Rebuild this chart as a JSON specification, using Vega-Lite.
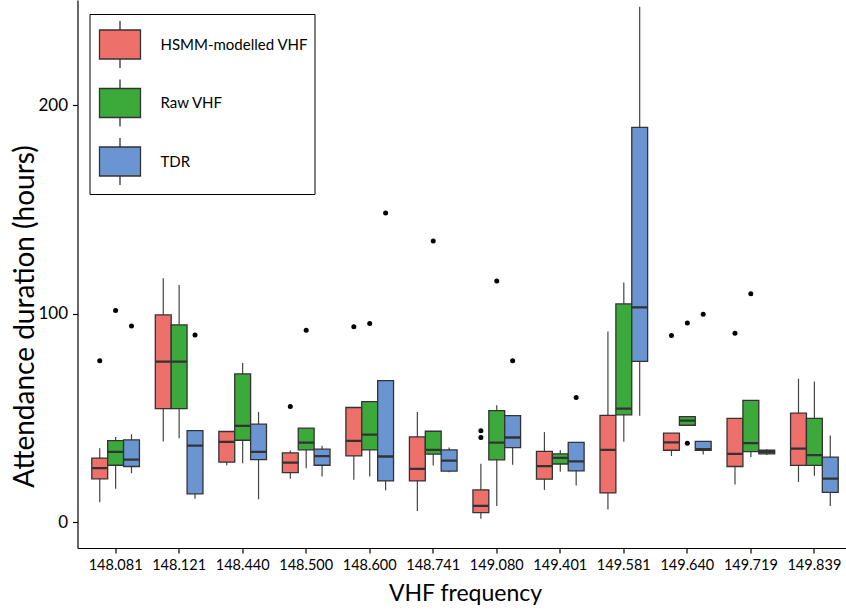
{
  "$schema": "https://vega.github.io/schema/vega-lite/v6.json",
  "width": 768,
  "height": 548,
  "autosize": {"type": "none"},
  "padding": {"left": 77.5, "top": 0, "right": 0, "bottom": 62},
  "background": "white",
  "config": {
    "view": {"stroke": null},
    "font": "Lato",
    "axis": {
      "grid": false,
      "domainColor": "#000000",
      "domainWidth": 1.2,
      "tickColor": "#000000",
      "tickWidth": 1.2,
      "tickSize": 5,
      "labelColor": "#000000",
      "titleColor": "#000000",
      "labelFont": "Lato",
      "titleFont": "Lato",
      "titleFontWeight": "normal"
    }
  },
  "datasets": {
    "boxes": [
      {"freq": "148.081", "source": "HSMM-modelled VHF", "lower": 9.6, "q1": 20.8, "median": 25.9, "q3": 30.7, "upper": 35.5},
      {"freq": "148.081", "source": "Raw VHF", "lower": 16, "q1": 27.3, "median": 33.7, "q3": 39.1, "upper": 40.8},
      {"freq": "148.081", "source": "TDR", "lower": 23.5, "q1": 26.7, "median": 30, "q3": 39.5, "upper": 42.2},
      {"freq": "148.121", "source": "HSMM-modelled VHF", "lower": 38.7, "q1": 54.5, "median": 77, "q3": 99.4, "upper": 117},
      {"freq": "148.121", "source": "Raw VHF", "lower": 40.3, "q1": 54.5, "median": 77, "q3": 94.6, "upper": 113.8},
      {"freq": "148.121", "source": "TDR", "lower": 11.2, "q1": 13.6, "median": 36.7, "q3": 43.9, "upper": 43.9},
      {"freq": "148.440", "source": "HSMM-modelled VHF", "lower": 27.2, "q1": 28.8, "median": 38.5, "q3": 43.5, "upper": 43.5},
      {"freq": "148.440", "source": "Raw VHF", "lower": 28.3, "q1": 39.3, "median": 46.2, "q3": 71.1, "upper": 76.3},
      {"freq": "148.440", "source": "TDR", "lower": 11, "q1": 30, "median": 33.7, "q3": 47, "upper": 52.8},
      {"freq": "148.500", "source": "HSMM-modelled VHF", "lower": 20.8, "q1": 23.8, "median": 28.6, "q3": 33.2, "upper": 34.4},
      {"freq": "148.500", "source": "Raw VHF", "lower": 25.9, "q1": 34.7, "median": 38.2, "q3": 45.1, "upper": 45.1},
      {"freq": "148.500", "source": "TDR", "lower": 21.9, "q1": 27.3, "median": 31.7, "q3": 35, "upper": 36.7},
      {"freq": "148.600", "source": "HSMM-modelled VHF", "lower": 20.3, "q1": 31.8, "median": 39, "q3": 55, "upper": 55},
      {"freq": "148.600", "source": "Raw VHF", "lower": 21.9, "q1": 34.7, "median": 42, "q3": 57.8, "upper": 57.8},
      {"freq": "148.600", "source": "TDR", "lower": 15.3, "q1": 19.8, "median": 31.5, "q3": 67.9, "upper": 67.9},
      {"freq": "148.741", "source": "HSMM-modelled VHF", "lower": 5.4, "q1": 19.8, "median": 25.6, "q3": 40.9, "upper": 52.8},
      {"freq": "148.741", "source": "Raw VHF", "lower": 27.2, "q1": 32.6, "median": 34.7, "q3": 43.6, "upper": 43.6},
      {"freq": "148.741", "source": "TDR", "lower": 24, "q1": 24.5, "median": 29.5, "q3": 34.7, "upper": 35.8},
      {"freq": "149.080", "source": "HSMM-modelled VHF", "lower": 1.6, "q1": 4.6, "median": 7.8, "q3": 15.5, "upper": 28},
      {"freq": "149.080", "source": "Raw VHF", "lower": 7.8, "q1": 29.9, "median": 38.2, "q3": 53.5, "upper": 56.1},
      {"freq": "149.080", "source": "TDR", "lower": 27.5, "q1": 35.8, "median": 40.6, "q3": 51.1, "upper": 51.1},
      {"freq": "149.401", "source": "HSMM-modelled VHF", "lower": 15.5, "q1": 20.6, "median": 26.9, "q3": 34, "upper": 43.2},
      {"freq": "149.401", "source": "Raw VHF", "lower": 24.2, "q1": 27.9, "median": 30.8, "q3": 32.8, "upper": 34.5},
      {"freq": "149.401", "source": "TDR", "lower": 17.6, "q1": 24.6, "median": 29.2, "q3": 38.3, "upper": 38.3},
      {"freq": "149.581", "source": "HSMM-modelled VHF", "lower": 6.1, "q1": 14, "median": 34.7, "q3": 51.2, "upper": 91.5},
      {"freq": "149.581", "source": "Raw VHF", "lower": 38.6, "q1": 51.5, "median": 54.5, "q3": 104.7, "upper": 115},
      {"freq": "149.581", "source": "TDR", "lower": 51, "q1": 77.1, "median": 103, "q3": 189.4, "upper": 247.3},
      {"freq": "149.640", "source": "HSMM-modelled VHF", "lower": 31.7, "q1": 34.5, "median": 38.3, "q3": 42.7, "upper": 42.7},
      {"freq": "149.640", "source": "Raw VHF", "lower": 46.5, "q1": 46.5, "median": 48.7, "q3": 50.6, "upper": 50.6},
      {"freq": "149.640", "source": "TDR", "lower": 32.5, "q1": 34.5, "median": 35, "q3": 38.8, "upper": 38.8},
      {"freq": "149.719", "source": "HSMM-modelled VHF", "lower": 18.1, "q1": 26.7, "median": 32.8, "q3": 49.8, "upper": 49.8},
      {"freq": "149.719", "source": "Raw VHF", "lower": 31.2, "q1": 33.8, "median": 37.9, "q3": 58.4, "upper": 58.4},
      {"freq": "149.719", "source": "TDR", "lower": 32.2, "q1": 32.8, "median": 33.6, "q3": 34.5, "upper": 35},
      {"freq": "149.839", "source": "HSMM-modelled VHF", "lower": 19.3, "q1": 27.2, "median": 35.3, "q3": 52.3, "upper": 68.8},
      {"freq": "149.839", "source": "Raw VHF", "lower": 22.3, "q1": 27.2, "median": 32.2, "q3": 49.8, "upper": 67.5},
      {"freq": "149.839", "source": "TDR", "lower": 7.7, "q1": 14.3, "median": 20.9, "q3": 31.2, "upper": 41.6}
    ],
    "outliers": [
      {"freq": "148.081", "source": "HSMM-modelled VHF", "value": 77.4},
      {"freq": "148.081", "source": "Raw VHF", "value": 101.5},
      {"freq": "148.081", "source": "TDR", "value": 94.1},
      {"freq": "148.121", "source": "TDR", "value": 89.8},
      {"freq": "148.500", "source": "HSMM-modelled VHF", "value": 55.5},
      {"freq": "148.500", "source": "Raw VHF", "value": 92.1},
      {"freq": "148.600", "source": "HSMM-modelled VHF", "value": 93.7},
      {"freq": "148.600", "source": "Raw VHF", "value": 95.3},
      {"freq": "148.600", "source": "TDR", "value": 148.3},
      {"freq": "148.741", "source": "Raw VHF", "value": 134.9},
      {"freq": "149.080", "source": "HSMM-modelled VHF", "value": 43.8},
      {"freq": "149.080", "source": "HSMM-modelled VHF", "value": 40.6},
      {"freq": "149.080", "source": "Raw VHF", "value": 115.7},
      {"freq": "149.080", "source": "TDR", "value": 77.4},
      {"freq": "149.401", "source": "TDR", "value": 59.8},
      {"freq": "149.640", "source": "HSMM-modelled VHF", "value": 89.5},
      {"freq": "149.640", "source": "Raw VHF", "value": 95.6},
      {"freq": "149.640", "source": "Raw VHF", "value": 37.9},
      {"freq": "149.640", "source": "TDR", "value": 99.7},
      {"freq": "149.719", "source": "HSMM-modelled VHF", "value": 90.6},
      {"freq": "149.719", "source": "Raw VHF", "value": 109.6}
    ]
  },
  "encoding": {
    "x": {
      "field": "freq",
      "type": "nominal",
      "scale": {
        "domain": ["148.081", "148.121", "148.440", "148.500", "148.600", "148.741", "149.080", "149.401", "149.581", "149.640", "149.719", "149.839"],
        "range": [0, 775],
        "paddingInner": 0,
        "paddingOuter": 0.1
      },
      "axis": {
        "title": "VHF frequency",
        "labelAngle": 0,
        "labelFontSize": 14.5,
        "labelPadding": 5,
        "titleFontSize": 23,
        "titlePadding": 11
      }
    },
    "xOffset": {
      "field": "source",
      "type": "nominal",
      "scale": {
        "domain": ["HSMM-modelled VHF", "Raw VHF", "TDR"],
        "paddingInner": 0,
        "paddingOuter": 0.5
      }
    }
  },
  "layer": [
    {
      "data": {"name": "boxes"},
      "mark": {"type": "rule", "color": "#444444", "strokeWidth": 1.2, "clip": true},
      "encoding": {
        "y": {
          "field": "lower",
          "type": "quantitative",
          "scale": {"domain": [-12.4, 250.5], "nice": false, "zero": false},
          "axis": {
            "title": "Attendance duration (hours)",
            "values": [0, 100, 200],
            "labelFontSize": 17,
            "labelPadding": 5,
            "titleFontSize": 28,
            "titleBaseline": "alphabetic",
            "titleX": -44.5,
            "titleY": 316
          }
        },
        "y2": {"field": "upper"}
      }
    },
    {
      "data": {"name": "boxes"},
      "mark": {"type": "bar", "stroke": "#333333", "strokeWidth": 1.3, "opacity": 1},
      "encoding": {
        "y": {"field": "q1", "type": "quantitative"},
        "y2": {"field": "q3"},
        "color": {
          "field": "source",
          "type": "nominal",
          "scale": {
            "domain": ["HSMM-modelled VHF", "Raw VHF", "TDR"],
            "range": ["#ED706A", "#3BAA3B", "#6A95D0"]
          },
          "legend": {
            "title": null,
            "orient": "none",
            "legendX": 12,
            "legendY": 14,
            "direction": "vertical",
            "strokeColor": "#000000",
            "fillColor": "#ffffff",
            "padding": 6,
            "cornerRadius": 0,
            "symbolType": "M-0.872,-0.617H0.872V0.617H-0.872Z M0,-0.617V-1 M0,0.617V1",
            "symbolSize": 2209,
            "symbolStrokeColor": "#333333",
            "symbolStrokeWidth": 1.3,
            "symbolOpacity": 1,
            "rowPadding": 5.5,
            "labelOffset": 16,
            "labelFontSize": 15,
            "labelFont": "Lato",
            "labelColor": "#000000",
            "labelLimit": 400
          }
        }
      }
    },
    {
      "data": {"name": "boxes"},
      "mark": {"type": "bar", "fill": null, "fillOpacity": 0, "stroke": "#333333", "strokeWidth": 2.3},
      "encoding": {
        "y": {"field": "median", "type": "quantitative"},
        "y2": {"field": "median"}
      }
    },
    {
      "data": {"name": "outliers"},
      "mark": {"type": "point", "shape": "circle", "filled": true, "color": "#000000", "size": 25, "opacity": 1},
      "encoding": {
        "y": {"field": "value", "type": "quantitative"}
      }
    }
  ]
}
